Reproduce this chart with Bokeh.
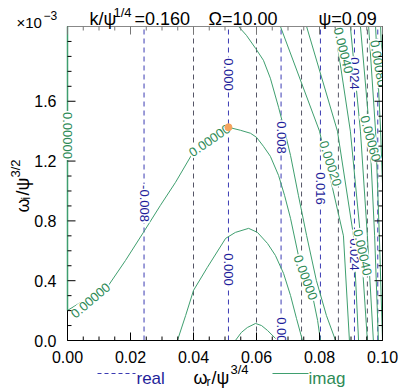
import math
from bokeh.plotting import figure
from bokeh.models import Range1d
from bokeh.core.properties import value
from bokeh.embed import file_html
from bokeh.resources import INLINE

# ---------------- data ----------------
x_ticks = [0.00, 0.02, 0.04, 0.06, 0.08, 0.10]
x_tick_labels = ["0.00", "0.02", "0.04", "0.06", "0.08", "0.10"]
x_minor = [0.005, 0.01, 0.015, 0.025, 0.03, 0.035, 0.045, 0.05, 0.055,
           0.065, 0.07, 0.075, 0.085, 0.09, 0.095]
y_ticks = [0.0, 0.4, 0.8, 1.2, 1.6]
y_tick_labels = ["0.0", "0.4", "0.8", "1.2", "1.6"]
y_minor = [0.1, 0.2, 0.3, 0.5, 0.6, 0.7, 0.9, 1.0, 1.1, 1.3, 1.4, 1.5,
           1.7, 1.8, 1.9, 2.0]
x_lim = [0.0, 0.1]
y_lim = [0.0, 2.1]          # units of 1e-3

# real-part contours (vertical dashed lines)
real_x = [0.0243, 0.0400, 0.0511, 0.0600, 0.0678, 0.0743, 0.0803, 0.0860, 0.0911, 0.0952, 0.0985]
real_level = [-0.008, -0.004, 0.000, 0.004, 0.008, 0.012, 0.016, 0.020, 0.024, 0.028, 0.032]
real_lab_text = ["-0.008", "0.000", "0.000", "0.008", "0.008", "0.016", "0.024", "0.024"]
real_lab_x = [0.0243, 0.0511, 0.0511, 0.0678, 0.0678, 0.0803, 0.0911, 0.0911]
real_lab_y = [0.916, 1.779, 0.475, 1.358, 0.047, 1.017, 1.786, 0.575]

# imaginary-part contours (y in units of 1e-3)
edge_x = [0.0, 0.0]
edge_y = [0.201, 2.1]
imagA_x = [0.0, 0.0041, 0.0089, 0.0130, 0.0184, 0.0241, 0.0295, 0.0343, 0.0397, 0.0454,
           0.0511, 0.0549, 0.0581, 0.0600, 0.0622, 0.0644, 0.0670, 0.0689, 0.0708, 0.0733,
           0.0756, 0.0781, 0.0794, 0.0803]
imagA_y = [0.201, 0.254, 0.315, 0.368, 0.535, 0.723, 0.904, 1.058, 1.252, 1.339,
           1.426, 1.406, 1.386, 1.359, 1.299, 1.232, 1.104, 0.971, 0.817, 0.569,
           0.422, 0.268, 0.134, 0.0]
imagB_x = [0.0349, 0.0375, 0.0400, 0.0444, 0.0502, 0.0533, 0.0575, 0.0603, 0.0635, 0.0660,
           0.0686, 0.0708, 0.0727, 0.0746]
imagB_y = [0.0, 0.167, 0.335, 0.489, 0.683, 0.723, 0.750, 0.723, 0.649, 0.569,
           0.448, 0.301, 0.147, 0.0]
imagC_x = [0.0533, 0.0552, 0.0571, 0.0597, 0.0616, 0.0635, 0.0667]
imagC_y = [0.0, 0.054, 0.087, 0.114, 0.100, 0.067, 0.0]
imagD_x = [0.0543, 0.0568, 0.0597, 0.0622, 0.0644, 0.0670, 0.0689, 0.0708, 0.0733, 0.0759,
           0.0790, 0.0822, 0.0851]
imagD_y = [2.1, 2.041, 1.954, 1.874, 1.754, 1.560, 1.406, 1.238, 0.971, 0.703,
           0.402, 0.167, 0.0]
right_y = [2.1, 1.4, 0.7, 0.0]
right_levels = [0.0002, 0.0003, 0.0004, 0.0005, 0.0006, 0.0007, 0.0008, 0.0009]
right_x = [
    [0.0676, 0.0800, 0.0876, 0.0895],
    [0.0759, 0.0857, 0.0908, 0.0924],
    [0.0848, 0.0898, 0.0930, 0.0952],
    [0.0898, 0.0930, 0.0952, 0.0971],
    [0.0930, 0.0959, 0.0975, 0.0987],
    [0.0956, 0.0978, 0.0990, 0.1000],
    [0.0978, 0.0994, 0.1006, 0.1013],
    [0.0994, 0.1006, 0.1019, 0.1025],
]
imag_lab_text = ["0.00000", "0.00000", "0.00000", "0.00020", "0.00040",
                 "0.00040", "0.00060", "0.00080"]
imag_lab_x = [0.0073, 0.0451, 0.0756, 0.0835, 0.0876, 0.0937, 0.0962, 0.0987]
imag_lab_y = [0.268, 1.338, 0.421, 1.184, 1.940, 0.589, 1.351, 1.853]
imag_lab_angle = [0.70, 0.60, -1.22, -1.26, -1.33, -1.35, -1.30, -1.40]
edge_lab_text = ["0.00000"]
edge_lab_x = [0.0]
edge_lab_y = [1.371]

root_x = [0.0511]
root_y = [1.426]

# ---------------- layout / style ----------------
FONT = value("Liberation Sans")
BLUE = "#3b3bb3"
GRAY = "#555566"
BLUE_TXT = "#1f1f9a"
GREEN = "#3f9f6f"
GREEN_TXT = "#2e8b57"

W, H = 399, 389
FL, FR, FT, FB = 67, 382, 26, 340          # plot box in canvas px
KX = (x_lim[1] - x_lim[0]) / (FR - FL)      # data per px
KY = (y_lim[1] - y_lim[0]) / (FB - FT)

def X(px):
    return x_lim[0] + (px - FL) * KX

def Y(py):
    return y_lim[0] + (FB - py) * KY

p = figure(width=W, height=H, output_backend="svg", toolbar_location=None,
           x_range=Range1d(X(0), X(W)), y_range=Range1d(Y(H), Y(0)),
           min_border=0, x_axis_type=None, y_axis_type=None)
p.grid.visible = False
p.outline_line_color = None
p.background_fill_color = "white"
p.border_fill_color = "white"

# real-part contours
for xv, lv in zip(real_x, real_level):
    major = (round(abs(lv) / 0.004) % 2 == 0)
    p.line([xv, xv], y_lim, line_color=BLUE if major else GRAY,
           line_dash="5 4", line_width=1)

# imaginary-part contours
for xs, ys in [(imagA_x, imagA_y), (imagB_x, imagB_y), (imagC_x, imagC_y),
               (imagD_x, imagD_y)]:
    p.line(xs, ys, line_color=GREEN, line_width=1)
for xs in right_x:
    p.line(xs, right_y, line_color=GREEN, line_width=1)

# contour labels
p.text(x=real_lab_x, y=real_lab_y, text=real_lab_text, angle=-math.pi / 2,
       text_font=FONT, text_font_size="13px", text_color=BLUE_TXT,
       text_align="center", text_baseline="middle",
       background_fill_color="white", padding=1)
p.text(x=imag_lab_x, y=imag_lab_y, text=imag_lab_text, angle=imag_lab_angle,
       text_font=FONT, text_font_size="13px", text_color=GREEN_TXT,
       text_align="center", text_baseline="middle",
       background_fill_color="white", padding=1)

p.scatter(root_x, root_y, size=7, color="#f4a460", line_color="#f4a460")

# white masks outside the plot box (clip)
p.quad(left=[x_lim[1], X(0)], right=[X(W), X(W)],
       bottom=[Y(H), Y(H)], top=[Y(0), y_lim[0]],
       fill_color="white", line_color=None)
p.quad(left=[X(0)], right=[x_lim[0]], bottom=[Y(H)], top=[Y(0)],
       fill_color="white", line_color=None)
p.quad(left=[X(0)], right=[X(W)], bottom=[y_lim[1]], top=[Y(0)],
       fill_color="white", line_color=None)

# axes box
p.line([x_lim[0], x_lim[1]], [y_lim[0], y_lim[0]], line_color="black", line_width=1)
p.line([x_lim[0], x_lim[1]], [y_lim[1], y_lim[1]], line_color="#888888", line_width=1)
p.line([x_lim[1], x_lim[1]], y_lim, line_color="black", line_width=1)
p.line([x_lim[0], x_lim[0]], y_lim, line_color="black", line_width=1)
# zero contour along the left edge
p.line(edge_x, edge_y, line_color=GREEN, line_width=1.5)

MAJ, MIN = 8, 4
xt = x_ticks + x_minor
xl = [MAJ] * len(x_ticks) + [MIN] * len(x_minor)
p.segment(x0=xt, y0=[y_lim[0]] * len(xt), x1=xt, y1=[y_lim[0] + l * KY for l in xl],
          line_color="black", line_width=1)
p.segment(x0=xt, y0=[y_lim[1]] * len(xt), x1=xt, y1=[y_lim[1] - l * KY for l in xl],
          line_color="#777777", line_width=1)
yt = y_ticks + y_minor
yl = [MAJ] * len(y_ticks) + [MIN] * len(y_minor)
p.segment(x0=[x_lim[0]] * len(yt), y0=yt, x1=[x_lim[0] + l * KX for l in yl], y1=yt,
          line_color="black", line_width=1)
p.segment(x0=[x_lim[1]] * len(yt), y0=yt, x1=[x_lim[1] - l * KX for l in yl], y1=yt,
          line_color="black", line_width=1)

# label of the zero contour lying on the left edge
p.text(x=edge_lab_x, y=edge_lab_y, text=edge_lab_text, angle=-math.pi / 2,
       text_font=FONT, text_font_size="13px", text_color=GREEN_TXT,
       text_align="center", text_baseline="middle",
       background_fill_color="white", padding=1)

# tick labels
p.text(x=x_ticks, y=[Y(356)] * len(x_ticks), text=x_tick_labels, text_font=FONT,
       text_font_size="16px", text_color="black", text_align="center",
       text_baseline="middle")
p.text(x=[X(56)] * len(y_ticks), y=y_ticks, text=y_tick_labels, text_font=FONT,
       text_font_size="16px", text_color="black", text_align="right",
       text_baseline="middle")

# other texts
def lab(text, px, py, size, color="black", angle=0.0):
    p.text(x=[X(px)], y=[Y(py)], text=[text], text_font=FONT,
           text_font_size=f"{size}px", text_color=color, angle=angle,
           text_align="left", text_baseline="alphabetic")

# title
lab("k/\u03c8", 89, 18, 18)
lab("1/4", 113, 12, 13)
lab("=0.160", 134, 18, 18)
lab("\u03a9=10.00", 208, 18, 18)
lab("\u03c8=0.09", 318, 18, 18)
lab("\u00d710", 16, 22, 15)
lab("\u22123", 43, 15, 12)

# x-axis title
lab("\u03c9", 193, 377, 18)
lab("r", 206, 381, 12)
lab("/\u03c8", 211, 377, 18)
lab("3/4", 230, 369, 13)

# y-axis title (rotated)
lab("\u03c9", 22, 212, 18, angle=math.pi / 2)
lab("i", 25, 199, 12, angle=math.pi / 2)
lab("/\u03c8", 22, 195, 18, angle=math.pi / 2)
lab("3/2", 15, 177, 13, angle=math.pi / 2)

# legend
p.line([X(97), X(135)], [Y(373), Y(373)], line_color=BLUE, line_dash="4 3", line_width=1)
lab("real", 136, 378, 17, color=BLUE_TXT)
p.line([X(272), X(308)], [Y(373), Y(373)], line_color=GREEN, line_width=1)
lab("imag", 308, 378, 17, color=GREEN_TXT)

open("out.html", "w").write(file_html(p, INLINE))
